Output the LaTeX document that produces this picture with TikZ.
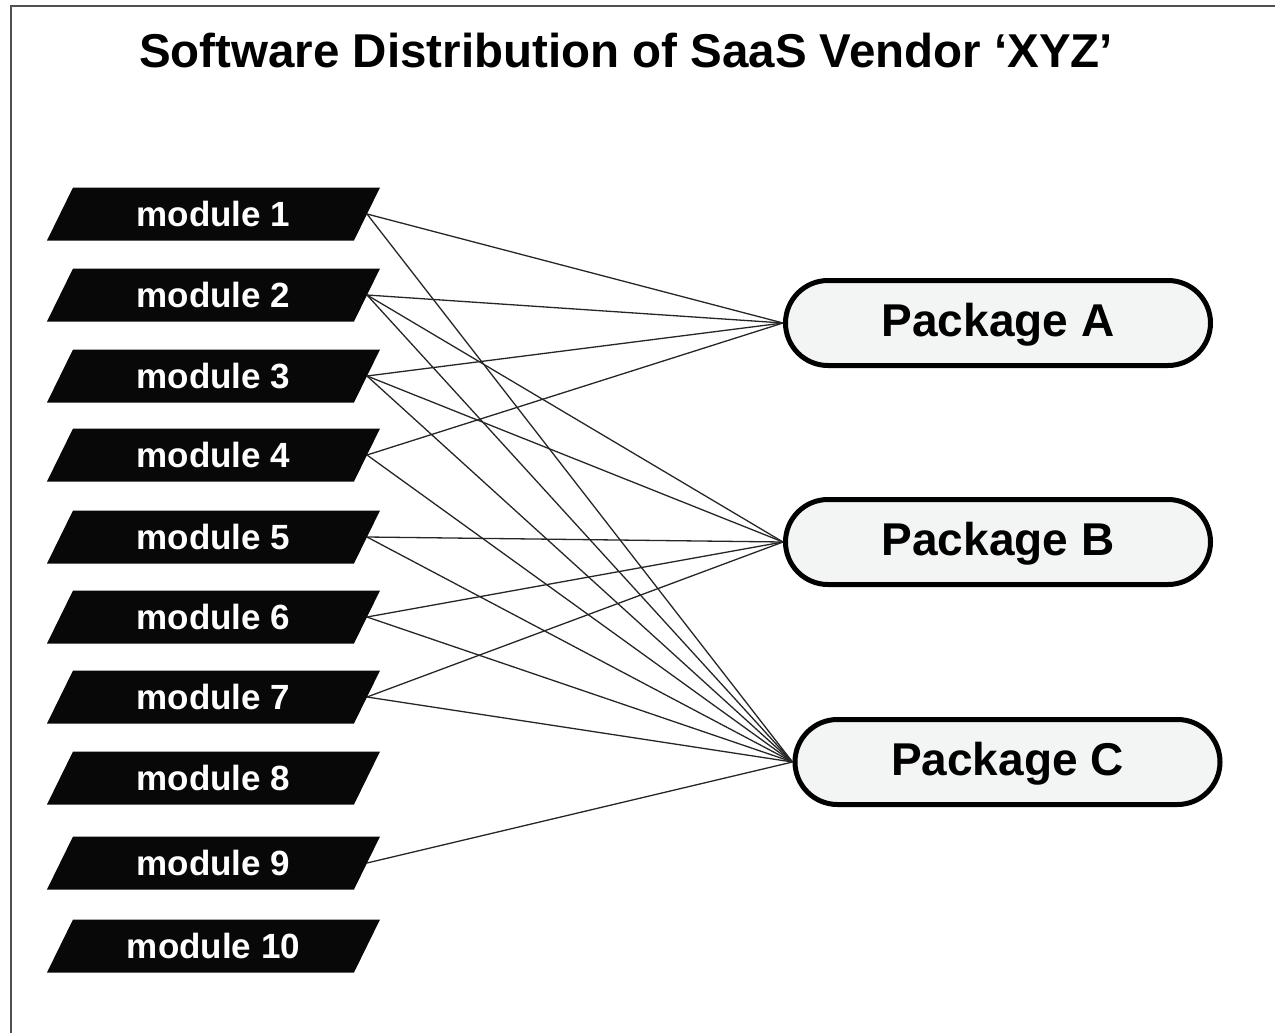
\documentclass[tikz,border=0pt]{standalone}
\usepackage{fontspec}
\setmainfont{Liberation Sans}
\usetikzlibrary{shapes.misc}

\definecolor{pkgfill}{HTML}{F3F4F4}
\definecolor{framegray}{HTML}{505050}
\definecolor{modfill}{HTML}{080808}

\begin{document}
\begin{tikzpicture}[x=1pt,y=-1pt,
  module/.style={rectangle, minimum width=307, minimum height=53,
    inner sep=0, outer sep=0, text=white,
    font=\fontsize{35}{35}\selectfont\bfseries},
  modshape/.style={fill=modfill},
  package/.style={rounded rectangle, draw=black, line width=5, fill=pkgfill,
    minimum width=425, minimum height=85, inner sep=0,
    text height=33pt, text depth=5.5pt,
    font=\fontsize{46}{46}\selectfont\bfseries},
  link/.style={line width=1.3, black!85},
  titletext/.style={font=\fontsize{47.5}{47.5}\selectfont\bfseries}]

\useasboundingbox (0,0) rectangle (1275,1033);

% outer frame (only left and top edges lie inside the page)
\draw[framegray, line width=2] (11,1040) -- (11,6) -- (1280,6);

% title
\node[titletext] (title) at (626,51) {Software Distribution of SaaS Vendor ‘XYZ’};

% modules: slanted black boxes with the label on top
\foreach \i/\y in {1/214,2/295,3/376,4/455,5/537,6/617,7/697,8/778,9/863,10/946} {
  \fill[modshape] (47,\y+26.5) -- ++(307,0) -- ++(26,-53) -- ++(-307,0) -- cycle;
  \node[module] (m\i) at (213.5,\y) {module \i};
}

% packages
\node[package] (pA) at (998,323)  {Package A};
\node[package] (pB) at (998,542)  {Package B};
\node[package] (pC) at (1007.5,762) {Package C};

% module-to-package assignments
\foreach \m in {m1,m2,m3,m4}
  \draw[link] (\m.east) -- (pA.west);
\foreach \m in {m2,m3,m5,m6,m7}
  \draw[link] (\m.east) -- (pB.west);
\foreach \m in {m1,m2,m3,m4,m5,m6,m7,m9}
  \draw[link] (\m.east) -- (pC.west);
\end{tikzpicture}
\end{document}
